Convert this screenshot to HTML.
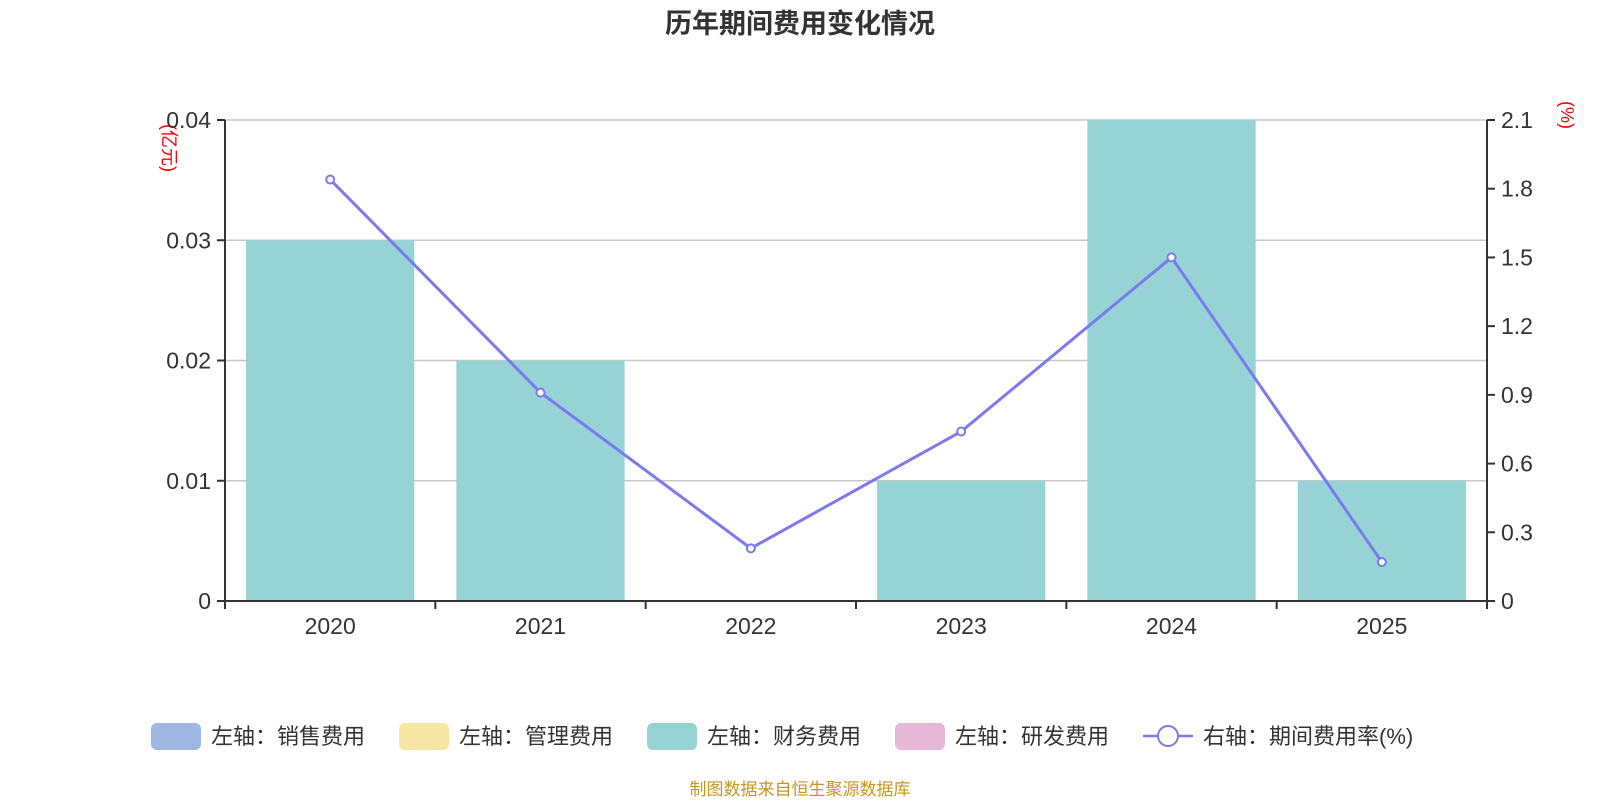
<!DOCTYPE html>
<html><head><meta charset="utf-8"><style>
body{margin:0;background:#fff;width:1600px;height:800px;overflow:hidden;font-family:"Liberation Sans","Noto Sans CJK SC",sans-serif}
</style></head><body>
<svg id="c" width="1600" height="800" xmlns="http://www.w3.org/2000/svg" style="font-family:'Liberation Sans','Noto Sans CJK SC',sans-serif">
<text x="800" y="33" text-anchor="middle" font-size="27" font-weight="bold" fill="#333">历年期间费用变化情况</text>
<text transform="translate(163,148) rotate(90)" text-anchor="middle" font-size="18" fill="red">(亿元)</text>
<text transform="translate(1561,115) rotate(90)" text-anchor="middle" font-size="18" fill="red">(%)</text>
<g id="plot"></g>
<g id="legend" font-size="22" fill="#333">
<rect x="151" y="723" width="50" height="27" rx="6" fill="#9db6e2"/>
<text x="211" y="744">左轴：销售费用</text>
<rect x="399" y="723" width="50" height="27" rx="6" fill="#f7e5a3"/>
<text x="459" y="744">左轴：管理费用</text>
<rect x="647" y="723" width="50" height="27" rx="6" fill="#96d3d5"/>
<text x="707" y="744">左轴：财务费用</text>
<rect x="895" y="723" width="50" height="27" rx="6" fill="#e6b7d6"/>
<text x="955" y="744">左轴：研发费用</text>
<line x1="1143" y1="736" x2="1193" y2="736" stroke="#7b7bf0" stroke-width="2.5"/>
<circle cx="1168" cy="736" r="10" fill="#fff" stroke="#7b7bf0" stroke-width="2"/>
<text x="1203" y="744">右轴：期间费用率(%)</text>
</g>
<text x="800" y="795" text-anchor="middle" font-size="17" fill="#c8961e">制图数据来自恒生聚源数据库</text>
</svg>
<script>
const categories=["2020","2021","2022","2023","2024","2025"];
const financeValues=[0.03,0.02,0,0.01,0.04,0.01];
const rateValues=[1.84,0.91,0.23,0.74,1.5,0.17];
const leftTicks=[0,0.01,0.02,0.03,0.04];
const rightTicks=[0,0.3,0.6,0.9,1.2,1.5,1.8,2.1];
const L=225,R=1487,T=120,B=601,NS="http://www.w3.org/2000/svg";
const g=document.getElementById('plot');
const bw=(R-L)/categories.length;
const xC=i=>L+bw*(i+0.5);
const yL=v=>B-(v/0.04)*(B-T);
const yR=v=>B-(v/2.1)*(B-T);
function mk(t,a){const e=document.createElementNS(NS,t);for(const k in a)e.setAttribute(k,a[k]);g.appendChild(e);return e;}
leftTicks.forEach(v=>{const y=yL(v);
 if(v>0){const gl=mk('line',{x1:L,x2:R,y1:y,y2:y,stroke:'#c8c8c8','stroke-width':1.5});
 
 }
 mk('line',{x1:L-8,x2:L,y1:y,y2:y,stroke:'#333','stroke-width':2});
 const t=mk('text',{x:L-14,y:y+8,'text-anchor':'end','font-size':23,fill:'#333'});t.textContent=String(v);
 
 });
rightTicks.forEach(v=>{const y=yR(v);
 mk('line',{x1:R,x2:R+8,y1:y,y2:y,stroke:'#333','stroke-width':2});
 const t=mk('text',{x:R+14,y:y+8,'font-size':23,fill:'#333'});t.textContent=String(v);
 
 });
financeValues.forEach((v,i)=>{const w=bw*0.8;
 const r=mk('rect',{x:xC(i)-w/2,y:yL(v),width:w,height:B-yL(v),fill:'#96d3d5'});
 
 });
const la=mk('line',{x1:L,x2:L,y1:T,y2:B,stroke:'#333','stroke-width':2});


const ra=mk('line',{x1:R,x2:R,y1:T,y2:B,stroke:'#333','stroke-width':2});


const xa=mk('line',{x1:L,x2:R,y1:B,y2:B,stroke:'#333','stroke-width':2});


for(let i=0;i<=categories.length;i++){const x=L+bw*i;mk('line',{x1:x,x2:x,y1:B,y2:B+8,stroke:'#333','stroke-width':2});}
categories.forEach((c,i)=>{const t=mk('text',{x:xC(i),y:B+33,'text-anchor':'middle','font-size':23,fill:'#333'});t.textContent=c;
 
 });
const pl=mk('polyline',{points:rateValues.map((v,i)=>xC(i)+','+yR(v)).join(' '),fill:'none',stroke:'#7b7bf0','stroke-width':3});


rateValues.forEach((v,i)=>{const c=mk('circle',{cx:xC(i),cy:yR(v),r:4,fill:'#fff',stroke:'#7b7bf0','stroke-width':2});
 
 });
</script>
</body></html>
